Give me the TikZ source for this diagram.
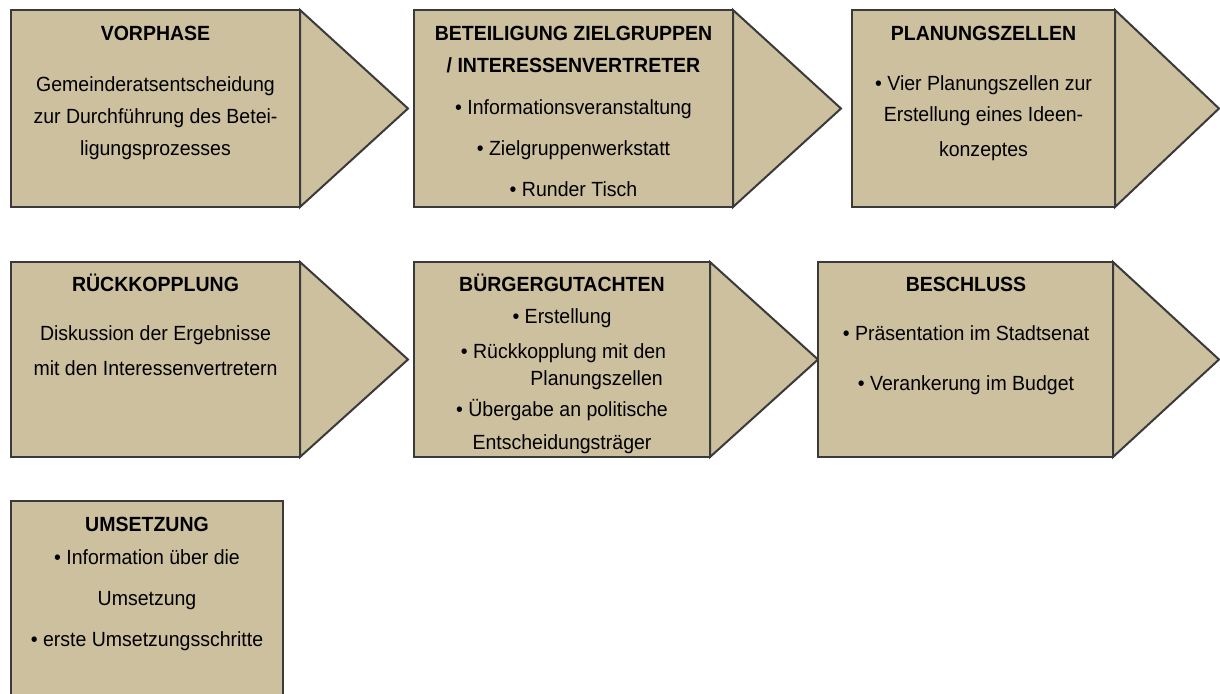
\documentclass[tikz,border=0pt]{standalone}
\usepackage{fontspec}
\setmainfont{Liberation Sans}[FakeStretch=0.95]
\definecolor{boxfill}{RGB}{204,192,159}
\definecolor{boxline}{RGB}{58,58,58}
\begin{document}
\begin{tikzpicture}[x=0.75pt,y=-0.75pt,
  panel/.style={fill=boxfill,draw=boxline,line width=1.5pt},
  hd/.style={anchor=base,inner sep=0pt,font=\bfseries\fontsize{15.4}{18}\selectfont},
  tx/.style={anchor=base,inner sep=0pt,font=\fontsize{15.4}{18}\selectfont}]
\clip (0,0) rectangle (1220,693);
\fill[white] (0,0) rectangle (1220,693);
% ---------- row 1 ----------
\path[panel] (300,10) coordinate (a1) -- (408,108.5) coordinate (t1) -- (300,207) -- cycle;
\path[panel] (11,10) rectangle (300,207);
\path[panel] (733,10) -- (841,108.5) coordinate (t2) -- (733,207) -- cycle;
\path[panel] (414,10) rectangle (733,207);
\path[panel] (1115,10) -- (1219,108.5) coordinate (t3) -- (1115,207) -- cycle;
\path[panel] (852,10) rectangle (1115,207);
% ---------- row 2 ----------
\path[panel] (300,262) -- (408,359.5) coordinate (t4) -- (300,457) -- cycle;
\path[panel] (11,262) rectangle (300,457);
\path[panel] (710,262) -- (818,359.5) coordinate (t5) -- (710,457) -- cycle;
\path[panel] (414,262) rectangle (710,457);
\path[panel] (1113,262) -- (1219,359.5) coordinate (t6) -- (1113,457) -- cycle;
\path[panel] (818,262) rectangle (1113,457);
% ---------- row 3 ----------
\path[panel] (11,501) rectangle (283,720);
% ---------- texts box 1 ----------
\node[hd] (v0) at (155.5,40.7) {VORPHASE};
\node[tx] (v1) at (155.5,91.7) {Gemeinderatsentscheidung};
\node[tx] (v2) at (155.5,123.3) {zur Durchführung des Betei-};
\node[tx] (v3) at (155.5,155) {ligungsprozesses};
% ---------- box 2 ----------
\node[hd] (z0) at (573.5,40.3) {BETEILIGUNG ZIELGRUPPEN};
\node[hd] (z1) at (573.5,72.7) {/ INTERESSENVERTRETER};
\node[tx] (z2) at (573.5,114.3) {• Informationsveranstaltung};
\node[tx] (z3) at (573.5,155) {• Zielgruppenwerkstatt};
\node[tx] (z4) at (573.5,196.7) {• Runder Tisch};
% ---------- box 3 ----------
\node[hd] (p0) at (983.5,40.3) {PLANUNGSZELLEN};
\node[tx] (p1) at (983.5,90) {• Vier Planungszellen zur};
\node[tx] (p2) at (983.5,121.7) {Erstellung eines Ideen-};
\node[tx] (p3) at (983.5,156) {konzeptes};
% ---------- box 4 ----------
\node[hd] (r0) at (155.5,291.7) {RÜCKKOPPLUNG};
\node[tx] (r1) at (155.5,340) {Diskussion der Ergebnisse};
\node[tx] (r2) at (155.5,375) {mit den Interessenvertretern};
% ---------- box 5 ----------
\begin{scope}
\clip (414,262) rectangle (710,456);
\node[hd] (g0) at (562,291.7) {BÜRGERGUTACHTEN};
\node[tx] (g1) at (562,323.3) {• Erstellung};
\node[tx] (g2) at (563.5,358.3) {• Rückkopplung mit den};
\node[tx,anchor=base east] (g3) at (663,385.7) {Planungszellen};
\node[tx] (g4) at (562,416.7) {• Übergabe an politische};
\node[tx] (g5) at (562,449.3) {Entscheidungsträger};
\end{scope}
% ---------- box 6 ----------
\node[hd] (s0) at (966,291.7) {BESCHLUSS};
\node[tx] (s1) at (966,340) {• Präsentation im Stadtsenat};
\node[tx] (s2) at (966,390.7) {• Verankerung im Budget};
% ---------- box 7 ----------
\node[hd] (u0) at (147,531.7) {UMSETZUNG};
\node[tx] (u1) at (147,564) {• Information über die};
\node[tx] (u2) at (147,605.7) {Umsetzung};
\node[tx] (u3) at (147,646.7) {• erste Umsetzungsschritte};
\end{tikzpicture}
\end{document}
